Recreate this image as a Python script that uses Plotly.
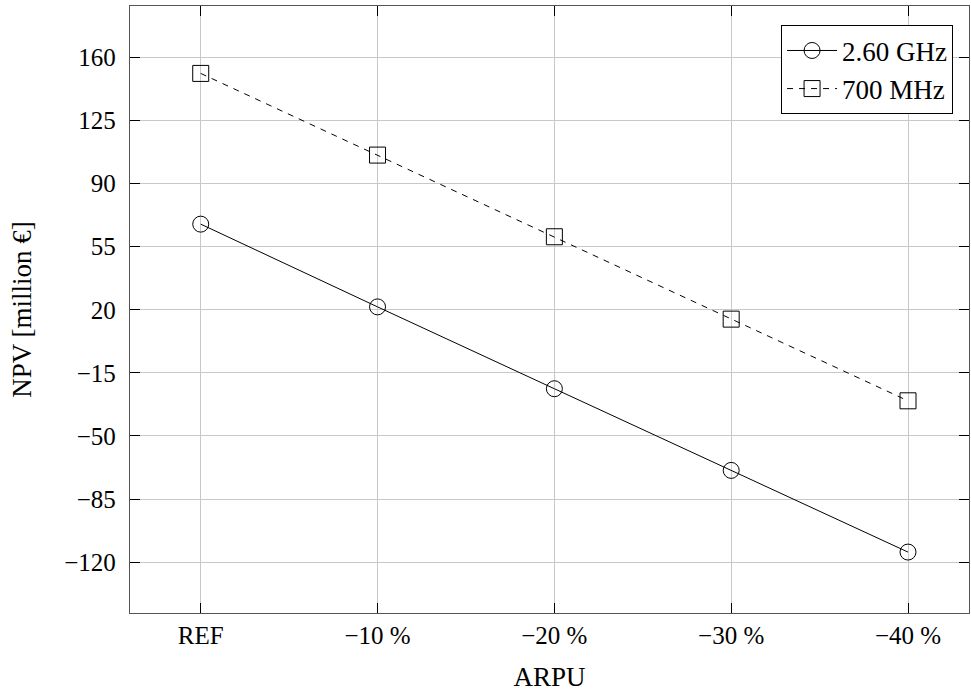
import plotly.graph_objects as go

categories = ["REF", "−10 %", "−20 %", "−30 %", "−40 %"]
npv_260ghz = [67.5, 21.6, -23.8, -69.1, -114.4]
npv_700mhz = [151.1, 105.8, 60.5, 14.8, -30.5]
y_ticks = [-120, -85, -50, -15, 20, 55, 90, 125, 160]
y_ticktext = [str(v).replace("-", "−") for v in y_ticks]

FONT = "Liberation Serif"

fig = go.Figure()
fig.add_trace(go.Scatter(
    x=categories, y=npv_260ghz, name="2.60 GHz", mode="lines+markers",
    line=dict(color="black", width=1),
    marker=dict(symbol="circle-open", size=16, color="black", line=dict(width=1, color="black")),
))
fig.add_trace(go.Scatter(
    x=categories, y=npv_700mhz, name="700 MHz", mode="lines+markers",
    line=dict(color="black", width=1, dash="6px,6px"),
    marker=dict(symbol="square-open", size=16, color="black", line=dict(width=1, color="black")),
))

axis_common = dict(
    showline=True, linecolor="#555555", linewidth=1.3, mirror="ticks",
    ticks="inside", ticklen=10, tickcolor="black", tickwidth=1,
    showgrid=True, gridcolor="#c8c8c8", gridwidth=1, zeroline=False,
    tickfont=dict(family=FONT, size=25, color="black"),
)

fig.update_layout(
    width=971, height=695,
    margin=dict(l=130, r=2, t=6, b=82),
    plot_bgcolor="white", paper_bgcolor="white",
    font=dict(family=FONT, color="black"),
    showlegend=True,
    legend=dict(
        x=0.981, y=0.968, xanchor="right", yanchor="top",
        bordercolor="black", borderwidth=1, bgcolor="white",
        font=dict(family=FONT, size=27, color="black"),
        tracegroupgap=0, itemwidth=50,
    ),
    xaxis=dict(
        **axis_common, type="category", range=[-0.4, 4.345],
        ticklabelstandoff=0,
        title=dict(text="ARPU", font=dict(family=FONT, size=27, color="black"), standoff=18),
    ),
    yaxis=dict(
        **axis_common, range=[-148.2, 188.5],
        tickvals=y_ticks, ticktext=y_ticktext, ticklabelstandoff=8,
        title=dict(text="NPV [million €]", font=dict(family=FONT, size=27, color="black"), standoff=24),
    ),
)

fig.write_html(
    "out.html",
    config={"displayModeBar": False},
    post_script="document.body.style.margin='0';document.body.style.overflow='hidden';",
)
